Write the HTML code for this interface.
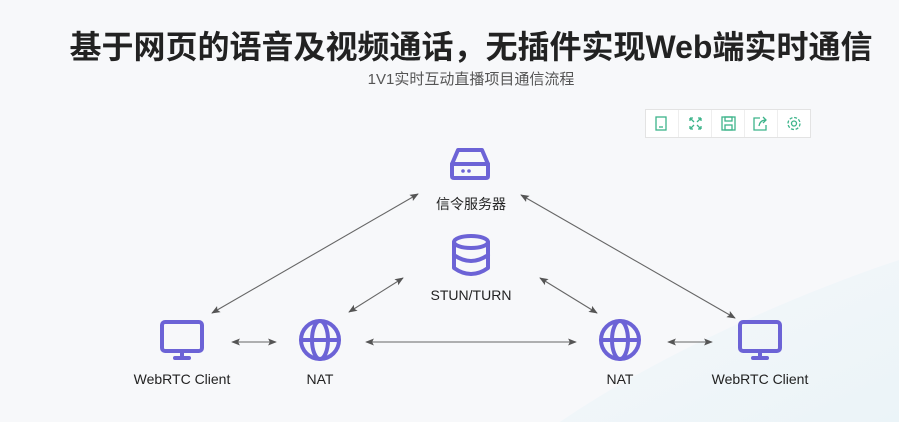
<!DOCTYPE html>
<html><head><meta charset="utf-8"><style>
html,body{margin:0;padding:0}
body{width:899px;height:422px;overflow:hidden;position:relative;background:#f7f8fa;font-family:"Liberation Sans","Noto Sans CJK SC",sans-serif}
.t{position:absolute;white-space:nowrap}
</style></head><body>
<svg width="899" height="422" style="position:absolute;left:0;top:0">
<defs>
<linearGradient id="g" x1="0" y1="0" x2="1" y2="1"><stop offset="0" stop-color="#f5f7fa"/><stop offset="1" stop-color="#ebf4f8"/></linearGradient>
<marker id="a" viewBox="0 0 10 10" refX="9" refY="5" markerWidth="8" markerHeight="8" orient="auto-start-reverse"><path d="M0,1 L10,5 L0,9 L2,5z" fill="#555"/></marker>
</defs>
<path d="M560,422 C650,360 780,300 899,260 L899,422z" fill="url(#g)"/>
<g stroke="#666" stroke-width="1.1" fill="none" marker-start="url(#a)" marker-end="url(#a)">
<line x1="212" y1="313" x2="418" y2="194"/>
<line x1="521" y1="195" x2="735" y2="318"/>
<line x1="349" y1="312" x2="403" y2="278"/>
<line x1="540" y1="278" x2="597" y2="313"/>
<line x1="232" y1="342" x2="276" y2="342"/>
<line x1="366" y1="342" x2="576" y2="342"/>
<line x1="668" y1="342" x2="712" y2="342"/>
</g>
<g stroke="#6c63d6" stroke-width="4" fill="none" stroke-linecap="round" stroke-linejoin="round">
<path d="M452,164 L458,150 L482,150 L488,164 L488,176 Q488,178 486,178 L454,178 Q452,178 452,176z"/>
<line x1="452" y1="164" x2="488" y2="164"/>
<ellipse cx="471" cy="242" rx="17" ry="6"/>
<path d="M454,242 V268 Q471,280 488,268 V242"/>
<path d="M454,255 Q471,267 488,255"/>
<rect x="162" y="322" width="40" height="29" rx="3"/>
<line x1="182" y1="352" x2="182" y2="357"/><line x1="175" y1="358" x2="189" y2="358"/>
<rect x="740" y="322" width="40" height="29" rx="3"/>
<line x1="760" y1="352" x2="760" y2="357"/><line x1="753" y1="358" x2="767" y2="358"/>
<circle cx="320" cy="340" r="19"/><ellipse cx="320" cy="340" rx="8" ry="19"/><line x1="301" y1="340" x2="339" y2="340"/>
<circle cx="620" cy="340" r="19"/><ellipse cx="620" cy="340" rx="8" ry="19"/><line x1="601" y1="340" x2="639" y2="340"/>
</g>
<circle cx="463" cy="171" r="1.8" fill="#6c63d6"/><circle cx="469" cy="171" r="1.8" fill="#6c63d6"/>
<rect x="645.5" y="109.5" width="165" height="28" fill="#fff" stroke="#e3e3e3"/>
<g stroke="#eee"><line x1="678.5" y1="110" x2="678.5" y2="137"/><line x1="711.5" y1="110" x2="711.5" y2="137"/><line x1="744.5" y1="110" x2="744.5" y2="137"/><line x1="777.5" y1="110" x2="777.5" y2="137"/></g>
<g stroke="#3cb48a" stroke-width="1.3" fill="none">
<rect x="656" y="117" width="10" height="13"/><line x1="659" y1="127" x2="663" y2="127"/>
<path d="M690,118 l4,4 M690,118 h3 M690,118 v3 M701,118 l-4,4 M701,118 h-3 M701,118 v3 M690,129 l4,-4 M690,129 h3 M690,129 v-3 M701,129 l-4,-4 M701,129 h-3 M701,129 v-3"/>
<rect x="722" y="117" width="13" height="13"/><rect x="725" y="117" width="7" height="4"/><rect x="725" y="125" width="7" height="5"/>
<path d="M760,118 h-6 v12 h12 v-5 M759,126 q1,-6 7,-6 M763,117 l3,3 -3,3"/>
<circle cx="794" cy="123.5" r="2.5"/><circle cx="794" cy="123.5" r="6" stroke-dasharray="3 1.7"/>
</g>
</svg>
<div class="t" style="left:0;width:942px;text-align:center;top:22px;font-size:32px;font-weight:bold;color:#222">基于网页的语音及视频通话，无插件实现Web端实时通信</div>
<div class="t" style="left:0;width:942px;text-align:center;top:68px;font-size:15px;color:#555">1V1实时互动直播项目通信流程</div>
<div class="t" style="left:371px;width:200px;text-align:center;top:194px;font-size:14px;color:#222">信令服务器</div>
<div class="t" style="left:371px;width:200px;text-align:center;top:287px;font-size:14px;color:#222">STUN/TURN</div>
<div class="t" style="left:82px;width:200px;text-align:center;top:371px;font-size:14px;color:#222">WebRTC Client</div>
<div class="t" style="left:220px;width:200px;text-align:center;top:371px;font-size:14px;color:#222">NAT</div>
<div class="t" style="left:520px;width:200px;text-align:center;top:371px;font-size:14px;color:#222">NAT</div>
<div class="t" style="left:660px;width:200px;text-align:center;top:371px;font-size:14px;color:#222">WebRTC Client</div>
</body></html>
